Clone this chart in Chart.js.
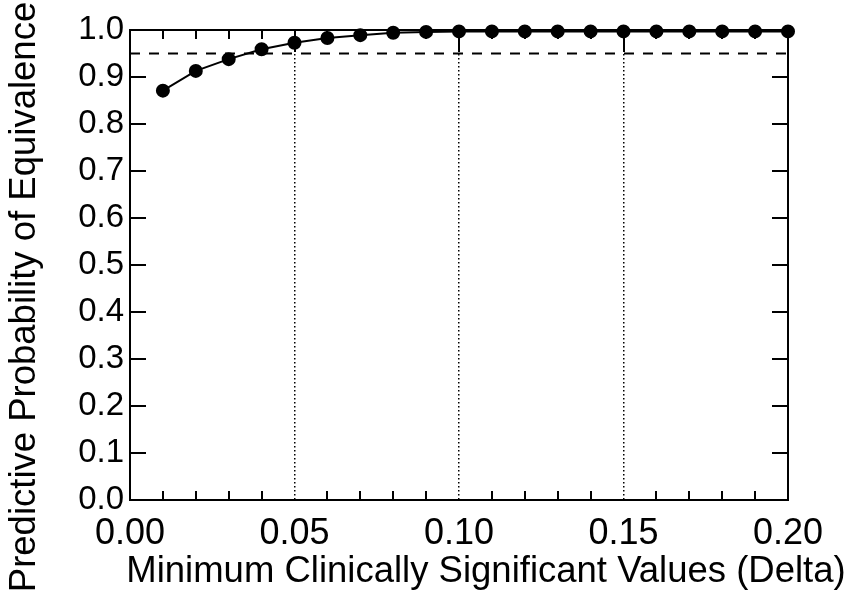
<!DOCTYPE html>
<html>
<head>
<meta charset="utf-8">
<script src="https://cdn.jsdelivr.net/npm/chart.js@4"></script>
<style>
  html, body { margin: 0; padding: 0; background: #fff; }
  #wrap { width: 854px; height: 594px; }
</style>
</head>
<body>
<div id="wrap"><canvas id="chart" width="854" height="594"></canvas></div>
<script>
// Data
const deltaValues = [0.01, 0.02, 0.03, 0.04, 0.05, 0.06, 0.07, 0.08, 0.09, 0.10,
                     0.11, 0.12, 0.13, 0.14, 0.15, 0.16, 0.17, 0.18, 0.19, 0.20];
const probValues = [0.871, 0.913, 0.938, 0.959, 0.973, 0.983, 0.989, 0.994, 0.996, 0.997,
                    0.997, 0.997, 0.997, 0.997, 0.997, 0.997, 0.997, 0.997, 0.997, 0.997];
const thresholdX = [0, 0.2];
const thresholdY = [0.95, 0.95];
const xMinorTicks = [0.01, 0.02, 0.03, 0.04, 0.06, 0.07, 0.08, 0.09, 0.11, 0.12, 0.13, 0.14, 0.16, 0.17, 0.18, 0.19];
const xMajorTicks = [0.05, 0.1, 0.15];
const yTicks = [0.1, 0.2, 0.3, 0.4, 0.5, 0.6, 0.7, 0.8, 0.9];
const xTitle = "Minimum Clinically Significant Values (Delta)";
const yTitle = "Predictive Probability of Equivalence";

const ink = "#000";
const font = "'Liberation Sans', Arial, sans-serif";

// frame, inward tick marks and axis titles
const frameTicks = {
  id: "frameTicks",
  afterDraw(chart) {
    const { ctx, chartArea: a, scales } = chart;
    ctx.save();
    ctx.fillStyle = ink;
    // frame
    ctx.fillRect(a.left - 1, a.top - 1, a.right - a.left + 2, 2);
    ctx.fillRect(a.left - 1, a.bottom - 1, a.right - a.left + 2, 2);
    ctx.fillRect(a.left - 1, a.top - 1, 2, a.bottom - a.top + 2);
    ctx.fillRect(a.right - 1, a.top - 1, 2, a.bottom - a.top + 2);
    // x ticks
    xMinorTicks.forEach((v) => {
      const x = Math.round(scales.x.getPixelForValue(v));
      ctx.fillRect(x - 1, a.bottom - 9, 2, 9);
      ctx.fillRect(x - 1, a.top, 2, 9);
    });
    xMajorTicks.forEach((v) => {
      const x = Math.round(scales.x.getPixelForValue(v));
      ctx.fillRect(x - 1, a.top, 2, 22);
    });
    // y ticks
    yTicks.forEach((v) => {
      const y = Math.round(scales.y.getPixelForValue(v));
      ctx.fillRect(a.left, y - 1, 16, 2);
      ctx.fillRect(a.right - 16, y - 1, 16, 2);
    });
    // titles
    ctx.font = "36.5px " + font;
    ctx.textAlign = "center";
    ctx.textBaseline = "alphabetic";
    ctx.fillText(xTitle, 486, 582);
    ctx.translate(35, 297);
    ctx.rotate(-Math.PI / 2);
    ctx.fillText(yTitle, 0, 0);
    ctx.restore();
  },
};

new Chart(document.getElementById("chart"), {
  type: "scatter",
  data: {
    datasets: [
      {
        label: "Predictive probability",
        data: deltaValues.map((x, i) => ({ x: x, y: probValues[i] })),
        showLine: true,
        borderColor: ink,
        borderWidth: 2,
        backgroundColor: ink,
        pointRadius: 6,
        pointHoverRadius: 6,
        clip: false,
      },
      {
        label: "0.95",
        data: thresholdX.map((x, i) => ({ x: x, y: thresholdY[i] })),
        showLine: true,
        borderColor: ink,
        borderWidth: 2,
        borderDash: [10, 9],
        pointRadius: 0,
      },
    ],
  },
  options: {
    responsive: false,
    animation: false,
    layout: { padding: { top: 30, right: 66, left: 0, bottom: 0 } },
    plugins: { legend: { display: false }, tooltip: { enabled: false } },
    scales: {
      x: {
        type: "linear",
        min: 0,
        max: 0.2,
        afterFit: (s) => { s.height = 94; },
        ticks: {
          stepSize: 0.05,
          padding: 12,
          color: ink,
          font: { family: font, size: 36 },
          callback: (v) => v.toFixed(2),
        },
        grid: {
          drawTicks: false,
          color: ink,
          lineWidth: 1.5,
        },
        border: { display: false, dash: [1.5, 2.5] },
      },
      y: {
        min: 0,
        max: 1,
        afterFit: (s) => { s.width = 130; },
        ticks: {
          stepSize: 0.1,
          padding: 6,
          color: ink,
          font: { family: font, size: 33 },
          callback: (v) => v.toFixed(1),
        },
        grid: { display: false, drawTicks: false },
        border: { display: false },
      },
    },
  },
  plugins: [frameTicks],
});
</script>
</body>
</html>
